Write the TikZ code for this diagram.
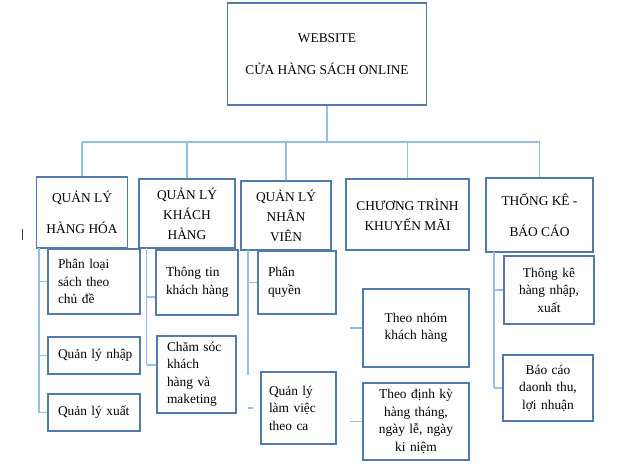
\documentclass[tikz,border=0pt]{standalone}
\usepackage{fontspec}
\setmainfont{Liberation Serif}
\usepackage{tikz}
\usetikzlibrary{calc}
\definecolor{boxblue}{RGB}{84,122,172}
\definecolor{linkblue}{RGB}{150,190,230}

\begin{document}
\begin{tikzpicture}[x=1pt,y=-1pt,
    box/.style={draw=boxblue,line width=1.2pt,fill=white,inner ysep=0pt,
        font=\fontsize{13.4pt}{17.5pt}\selectfont},
    head/.style={box,align=center,font=\fontsize{13.4pt}{20pt}\selectfont},
    leaf/.style={box,align=left,inner xsep=10pt},
    mid/.style={box,align=center,inner xsep=6pt},
    link/.style={draw=linkblue,line width=1.4pt}]
    \useasboundingbox (0,0) rectangle (624,468);

    \node[box,align=center,minimum width=199pt,minimum height=102pt] (web) at (327,54)
        {WEBSITE\\[14.5pt]CỬA HÀNG SÁCH ONLINE};

    \node[head,minimum width=91pt,minimum height=71pt] (hh) at (82,212.5) {QUẢN LÝ\\[11pt]HÀNG HÓA};
    \node[head,minimum width=96pt,minimum height=69pt] (kh) at (187,213.5) {QUẢN LÝ\\KHÁCH\\HÀNG};
    \node[head,minimum width=90pt,minimum height=69pt] (nv) at (286,215.5) {QUẢN LÝ\\NHÂN\\VIÊN};
    \node[head,minimum width=123pt,minimum height=71pt] (ct) at (407.5,214.5) {CHƯƠNG TRÌNH\\KHUYẾN MÃI};
    \node[head,minimum width=107pt,minimum height=74pt] (tk) at (539.5,215) {THỐNG KÊ -\\[11pt]BÁO CÁO};

    \node[leaf,text width=72pt,minimum height=65pt] (pl) at (94,281.5) {Phân~loại\\sách~theo\\chủ~đề};
    \node[leaf,text width=72pt,minimum height=37pt] (nhap) at (94,355.5) {Quản~lý~nhập};
    \node[leaf,text width=72pt,minimum height=37pt] (xuat) at (94,412.5) {Quản~lý~xuất};
    \node[leaf,text width=62pt,minimum height=65pt] (tt) at (197,282.5) {Thông~tin\\khách~hàng\\[5pt]};
    \node[leaf,text width=59pt,minimum height=77pt] (cs) at (196.5,374.5) {Chăm~sóc\\khách\\hàng~và\\maketing};
    \node[leaf,text width=58pt,minimum height=63pt] (pq) at (297,282.5) {Phân\\quyền\\[5pt]};
    \node[leaf,inner xsep=8pt,text width=59pt,minimum height=72pt] (lv) at (298.5,408) {Quản~lý\\làm~việc\\theo~ca\\[5pt]};
    \node[mid,text width=94pt,minimum height=78pt] (tn) at (416,328) {Theo~nhóm\\khách~hàng};
    \node[mid,text width=94pt,minimum height=77pt] (dk) at (416,421.5) {Theo~định~kỳ\\hàng~tháng,\\ngày~lễ,~ngày\\ki~niệm};
    \node[mid,text width=78pt,minimum height=68pt] (tkn) at (549,290) {Thông~kê\\hàng~nhập,\\xuất};
    \node[mid,text width=78pt,minimum height=66pt] (bc) at (548,388) {Báo~cáo\\daonh~thu,\\lợi~nhuận};

    \coordinate (bus) at (327,142);
    \draw[link] (web.south) -- (bus);
    \draw[link] (hh.north |- bus) -- (tk.north |- bus);
    \foreach \n in {hh,kh,nv,ct,tk}
        \draw[link] (\n.north |- bus) -- (\n.north);

    \coordinate (t1) at (39,248);
    \coordinate (t2) at (146.5,248);
    \coordinate (t3) at (248,250);
    \coordinate (t3end) at (248,375);
    \coordinate (t5) at (494,252);

    \draw[link] (t1) -- (t1 |- xuat.west);
    \foreach \n in {pl,nhap,xuat}
        \draw[link] (t1 |- \n.west) -- (\n.west);

    \draw[link] (t2) -- (t2 |- 0,365);
    \draw[link] (t2 |- 0,297) -- ([yshift=-14.5pt]tt.west);
    \draw[link] (t2 |- 0,365) -- ([yshift=9.5pt]cs.west);

    \draw[link] (t3) -- (t3end);
    \draw[link] (t3 |- pq.west) -- (pq.west);
    \draw[link] (t3 |- lv.west) -- ++(5,0);

    \draw[link] ([xshift=-12pt]tn.west) -- (tn.west);
    \draw[link] ([xshift=-12pt]dk.west) -- (dk.west);

    \draw[link] (t5) -- (t5 |- bc.west);
    \draw[link] (t5 |- tkn.west) -- (tkn.west);
    \draw[link] (t5 |- bc.west) -- (bc.west);

    \draw[black!75,line width=1pt] (22,229) -- (22,240);
\end{tikzpicture}
\end{document}
